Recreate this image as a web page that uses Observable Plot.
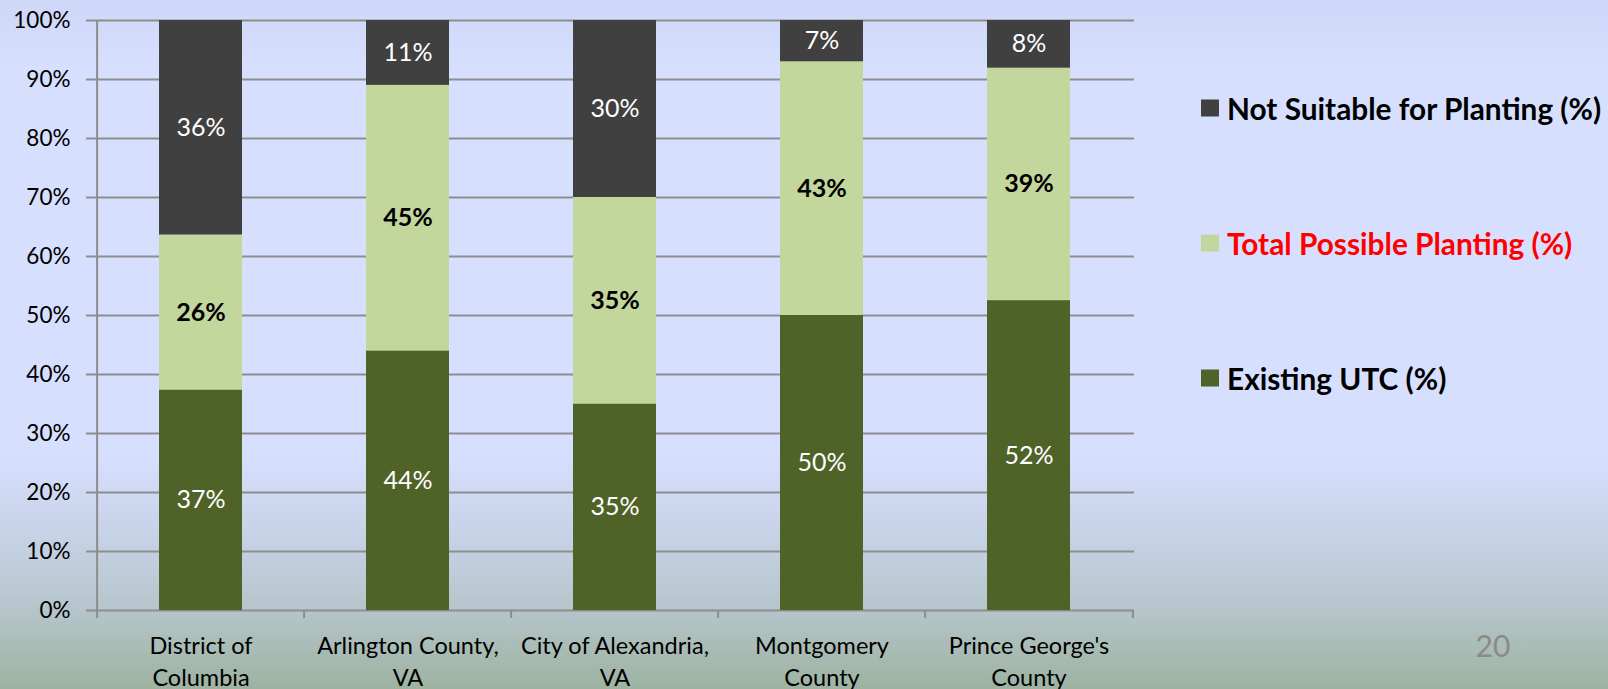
<!DOCTYPE html>
<html>
<head>
<meta charset="utf-8">
<script src="https://cdn.jsdelivr.net/npm/d3@7"></script>
<script src="https://cdn.jsdelivr.net/npm/@observablehq/plot@0.6"></script>
<style>
  html, body { margin: 0; padding: 0; }
  body {
    width: 1608px; height: 689px; overflow: hidden;
    background: linear-gradient(to bottom, #ced7f7 0%, #d6dffe 10%, #d6dffe 66%, #c9d4ea 76%, #b8c7cf 87%, #9db3a1 100%);
    font-family: Lato, "Open Sans", sans-serif;
  }
  #wrap { position: relative; width: 1608px; height: 689px; }
  #chart { position: absolute; left: 0; top: 0; }
  .legend-item { position: absolute; left: 1201px; display: flex; align-items: center; font-weight: 700; font-size: 29.8px; white-space: nowrap; transform: translateY(-50%); }
  .legend-item .sw { width: 18px; height: 17px; margin-right: 8px; flex: none; }
  #page { position: absolute; left: 1493px; top: 645px; transform: translate(-50%, -50%); color: #8a8a8a; font-size: 30px; }
</style>
</head>
<body>
<div id="wrap">
  <div id="chart"></div>
  <div id="legend"></div>
  <div id="page">20</div>
</div>
<script>
const categories = ["District of Columbia", "Arlington County, VA", "City of Alexandria, VA", "Montgomery County", "Prince George's County"];
const categoryLines = [["District of", "Columbia"], ["Arlington County,", "VA"], ["City of Alexandria,", "VA"], ["Montgomery", "County"], ["Prince George's", "County"]];
const series = ["Existing UTC (%)", "Total Possible Planting (%)", "Not Suitable for Planting (%)"];
const seriesColors = ["#4f6228", "#c3d69b", "#404040"];
const existingUTC = [37, 44, 35, 50, 52];
const possiblePlanting = [26, 45, 35, 43, 39];
const notSuitable = [36, 11, 30, 7, 8];
const yTicks = [0, 0.1, 0.2, 0.3, 0.4, 0.5, 0.6, 0.7, 0.8, 0.9, 1];
const legendOrder = [2, 1, 0];
const legendTextColors = ["#000000", "#ff0000", "#000000"];

const seriesValues = [existingUTC, possiblePlanting, notSuitable];
const rows = categories.flatMap((cat, i) => series.map((s, j) => ({cat, series: s, value: seriesValues[j][i]})));

const W = 1608, H = 689, ML = 95, MR = 474, MT = 20, MB = 79;
const step = (W - ML - MR) / categories.length;
const gridColor = "#8d8d8d";
const font = "Lato, 'Open Sans', sans-serif";
const stackOpts = {x: "cat", y: "value", z: "series", order: series, offset: "normalize"};

const chart = Plot.plot({
  width: W, height: H,
  marginLeft: ML, marginRight: MR, marginTop: MT, marginBottom: MB,
  style: {background: "transparent", fontFamily: font, overflow: "visible"},
  x: {domain: categories, paddingInner: 0.6, paddingOuter: 0.3, axis: null, label: null},
  y: {domain: [0, 1], axis: null, label: null},
  color: {domain: series, range: seriesColors},
  marks: [
    Plot.ruleY(yTicks, {stroke: gridColor, strokeWidth: 2, insetLeft: -9}),
    Plot.ruleX([categories[0]], {dx: -step / 2, y1: 0, y2: 1, stroke: gridColor, strokeWidth: 2}),
    Plot.ruleX(categories, {dx: -step / 2, y1: 0, y2: 0, insetBottom: -8, stroke: gridColor, strokeWidth: 2}),
    Plot.ruleX([categories[categories.length - 1]], {dx: step / 2, y1: 0, y2: 0, insetBottom: -8, stroke: gridColor, strokeWidth: 2}),
    Plot.barY(rows, Plot.stackY({...stackOpts, fill: "series"})),
    Plot.text(rows, Plot.stackY({...stackOpts, text: d => d.series === series[1] ? null : d.value + "%", fill: "white", fontSize: 25, fontFamily: font})),
    Plot.text(rows, Plot.stackY({...stackOpts, text: d => d.series === series[1] ? d.value + "%" : null, fill: "black", fontWeight: "bold", fontSize: 25, fontFamily: font})),
    Plot.axisY(yTicks, {label: null, tickSize: 0, tickPadding: 25, tickFormat: d3.format(".0%"), fontSize: 22.5, fill: "black", fontFamily: font}),
    Plot.axisX(categories, {label: null, tickSize: 0, tickPadding: 21, tickFormat: d => categoryLines[categories.indexOf(d)].join("\n"), lineHeight: 1.36, fontSize: 23.5, fill: "black", fontFamily: font})
  ]
});
document.getElementById("chart").appendChild(chart);

const legend = document.getElementById("legend");
const legendY = [108, 243, 378];
legendOrder.forEach((si, k) => {
  const item = document.createElement("div");
  item.className = "legend-item";
  item.style.top = legendY[k] + "px";
  item.style.color = legendTextColors[k];
  const sw = document.createElement("span");
  sw.className = "sw";
  sw.style.background = seriesColors[si];
  const t = document.createElement("span");
  t.textContent = series[si];
  item.appendChild(sw);
  item.appendChild(t);
  legend.appendChild(item);
});
</script>
</body>
</html>
